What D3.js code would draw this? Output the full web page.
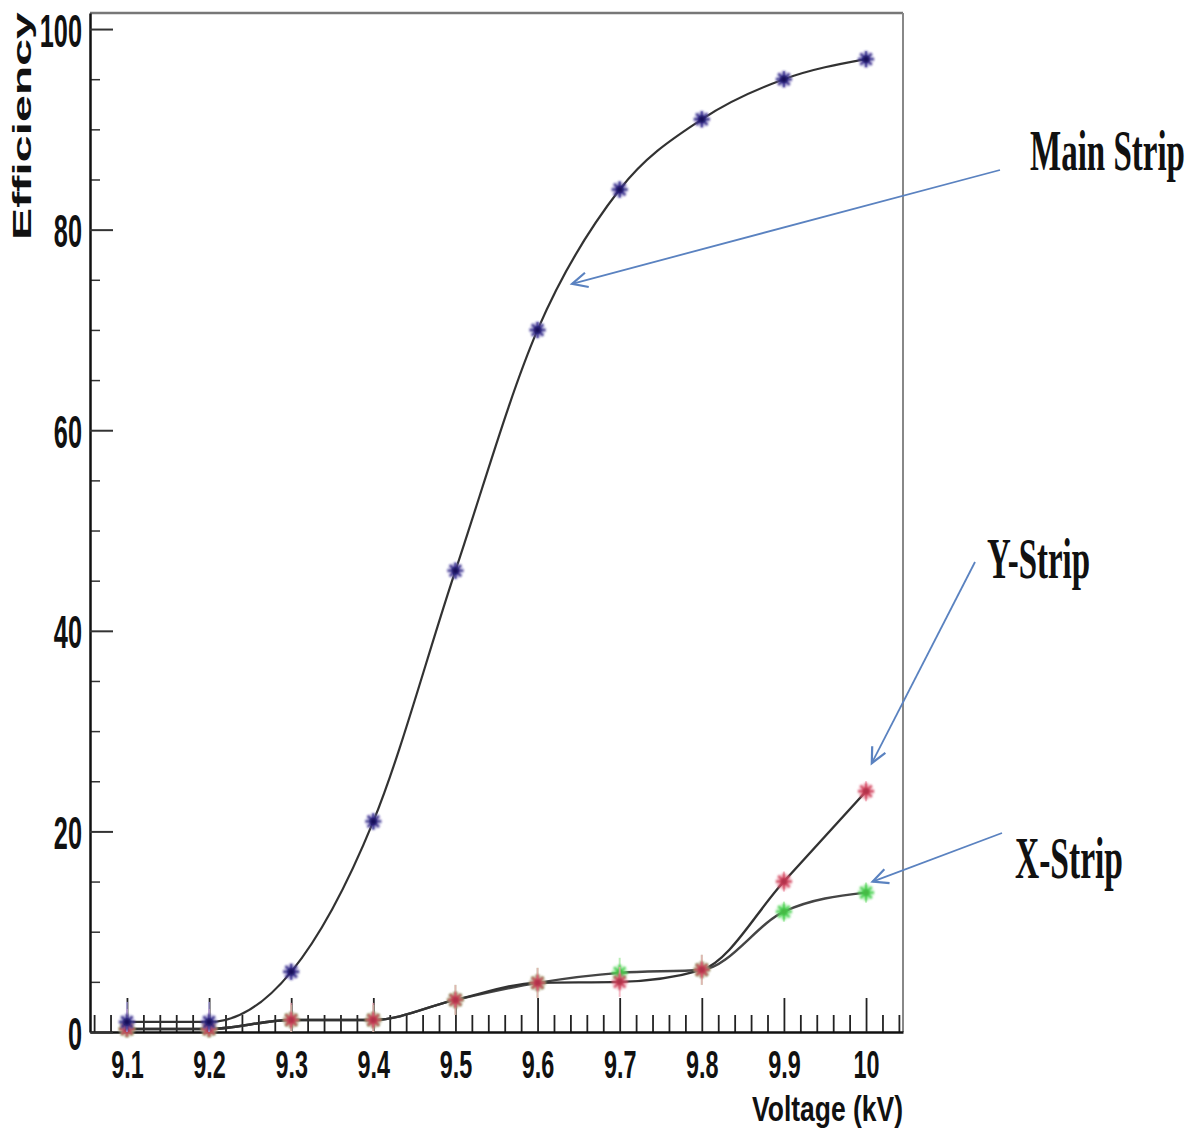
<!DOCTYPE html>
<html><head><meta charset="utf-8">
<script src="https://cdn.jsdelivr.net/npm/d3@7"></script>
<style>body{margin:0;background:#fff}</style>
</head><body><svg id="c" width="1203" height="1143"></svg>
<script>
// ---- data ----
const voltage   = [9.1, 9.2, 9.3, 9.4, 9.5, 9.6, 9.7, 9.8, 9.9, 10.0];
const mainStrip = [1.0, 1.0, 6.0, 21.0, 46.0, 70.0, 84.0, 91.0, 95.0, 97.0];
const mainErr   = [2.0, 2.0, 0.8, 0.8, 0.8, 0.8, 0.8, 0.8, 0.8, 0.8];
const yStrip    = [0.3, 0.3, 1.2, 1.2, 3.2, 4.9, 5.0, 6.2, 15.0, 24.0];
const yErr      = [2.0, 2.0, 1.7, 1.7, 1.5, 1.5, 1.5, 1.5, 1.0, 1.0];
const xStrip    = [0.3, 0.3, 1.2, 1.2, 3.2, 4.9, 5.9, 6.2, 12.0, 13.9];
const xErr      = [1.5, 1.5, 1.5, 1.5, 1.5, 1.5, 1.5, 1.5, 1.0, 1.0];
const xTickVals   = [9.1, 9.2, 9.3, 9.4, 9.5, 9.6, 9.7, 9.8, 9.9, 10.0];
const xTickLabels = ["9.1","9.2","9.3","9.4","9.5","9.6","9.7","9.8","9.9","10"];
const yTickVals   = [0, 20, 40, 60, 80, 100];
const yTickLabels = ["0","20","40","60","80","100"];
const annotations = [
  {label:"Main Strip", tipX:9.642, tipY:74.6},
  {label:"Y-Strip",    tipX:10.007, tipY:26.8},
  {label:"X-Strip",    tipX:10.008, tipY:15.0}
];

const svg = d3.select("#c");
const L=90, R=903, T=13, B=1032;
const x = d3.scaleLinear().domain([9.055, 10.045]).range([L, R]);
const y = d3.scaleLinear().domain([0, 101.6]).range([B, T]);

const defs = svg.append("defs");
defs.append("filter").attr("id","blur").attr("x","-50%").attr("y","-50%").attr("width","200%").attr("height","200%")
  .append("feGaussianBlur").attr("stdDeviation",1.3);
defs.append("filter").attr("id","soft").append("feGaussianBlur").attr("stdDeviation",0.6);

// frame top/right
svg.append("line").attr("x1",L).attr("x2",R).attr("y1",T).attr("y2",T).attr("stroke","#777").attr("stroke-width",2.5);
svg.append("line").attr("x1",R).attr("x2",R).attr("y1",T).attr("y2",B).attr("stroke","#888").attr("stroke-width",2);

// minor ticks
const xMinor = d3.range(9.06, 10.041, 0.02).filter(v => !xTickVals.some(t => Math.abs(t-v)<1e-6));
const yMinor = d3.range(0, 101, 5).filter(v => v%20!==0);

svg.append("g").attr("transform",`translate(0,${B})`)
  .call(d3.axisBottom(x).tickValues(xMinor).tickSize(-17).tickSizeOuter(0).tickFormat(""))
  .call(g=>g.select(".domain").remove())
  .selectAll("line").attr("stroke","#222").attr("stroke-width",1.8);
svg.append("g").attr("transform",`translate(${L},0)`)
  .call(d3.axisLeft(y).tickValues(yMinor).tickSize(-10).tickSizeOuter(0).tickFormat(""))
  .call(g=>g.select(".domain").remove())
  .selectAll("line").attr("stroke","#333").attr("stroke-width",1.5);

// major axes
const xAx = svg.append("g").attr("transform",`translate(0,${B})`)
  .call(d3.axisBottom(x).tickValues(xTickVals).tickSize(-34).tickSizeOuter(0)
        .tickFormat((d,i)=>xTickLabels[i]));
xAx.select(".domain").attr("stroke","#111").attr("stroke-width",2.5);
xAx.selectAll("line").attr("stroke","#222").attr("stroke-width",1.8);
xAx.selectAll("text").attr("y",46).attr("dy",null)
  .attr("transform","scale(0.6,1)")
  .attr("font-family","Liberation Sans, Arial, sans-serif").attr("font-weight","bold")
  .attr("font-size",39).attr("fill","#111");

const yAx = svg.append("g").attr("transform",`translate(${L},0)`)
  .call(d3.axisLeft(y).tickValues(yTickVals).tickSize(-23).tickSizeOuter(0)
        .tickFormat((d,i)=>yTickLabels[i]));
yAx.select(".domain").attr("stroke","#111").attr("stroke-width",2.5);
yAx.selectAll("line").attr("stroke","#333").attr("stroke-width",2);
yAx.selectAll("text").attr("x",-8/0.55).attr("dy",null).attr("y",17)
  .attr("transform","scale(0.55,1)")
  .attr("font-family","Liberation Sans, Arial, sans-serif").attr("font-weight","bold")
  .attr("font-size",46).attr("fill","#111");

// helper: text fitted to a width with a horizontal scale transform
function fitText(txt, opts){
  const t = svg.append("text").attr("font-family",opts.family).attr("font-weight","bold")
    .attr("font-size",opts.fs).attr("fill","#111").attr("text-anchor",opts.anchor||"start").text(txt);
  const w = t.node().getComputedTextLength();
  const s = opts.len / w;
  t.attr("transform",`translate(${opts.x},${opts.y})${opts.rot?` rotate(${opts.rot})`:""} scale(${s},1)`);
  return t;
}

// axis titles
fitText("Voltage (kV)", {x:R, y:1121, len:151, fs:35, anchor:"end", family:"Liberation Sans, Arial, sans-serif"});
fitText("Efficiency", {x:31, y:240, rot:-90, len:228, fs:25, family:"Liberation Sans, Arial, sans-serif"});

// curves
const mk = arr => voltage.map((v,i)=>({v, e:arr[i]}));
const line = d3.line().x(d=>x(d.v)).y(d=>y(d.e)).curve(d3.curveMonotoneX);
const curves = svg.append("g").attr("fill","none").attr("filter","url(#soft)");
curves.append("path").attr("d",line(mk(xStrip))).attr("stroke","#444").attr("stroke-width",2.4);
curves.append("path").attr("d",line(mk(yStrip))).attr("stroke","#333").attr("stroke-width",2.4);
curves.append("path").attr("d",line(mk(mainStrip))).attr("stroke","#333").attr("stroke-width",2.2);

// markers
function star(cx, cy, s){
  const p = d3.path();
  p.moveTo(cx-s,cy); p.lineTo(cx+s,cy);
  p.moveTo(cx,cy-s); p.lineTo(cx,cy+s);
  const d=s*0.7;
  p.moveTo(cx-d,cy-d); p.lineTo(cx+d,cy+d);
  p.moveTo(cx-d,cy+d); p.lineTo(cx+d,cy-d);
  return p.toString();
}
function drawSeries(arr, err, col, halo, core){
  const g = svg.append("g");
  const pts = mk(arr).map((d,i)=>({...d, err:err[i]}));
  g.selectAll("line.err").data(pts).join("line")
    .attr("x1",d=>x(d.v)).attr("x2",d=>x(d.v))
    .attr("y1",d=>y(d.e+d.err)).attr("y2",d=>y(Math.max(0,d.e-d.err)))
    .attr("stroke",halo).attr("stroke-width",2).attr("opacity",0.7);
  g.selectAll("circle").data(pts).join("circle")
    .attr("cx",d=>x(d.v)).attr("cy",d=>y(d.e)).attr("r",8)
    .attr("fill",halo).attr("opacity",0.35).attr("filter","url(#blur)");
  g.selectAll("path").data(pts).join("path")
    .attr("d",d=>star(x(d.v),y(d.e),8))
    .attr("stroke",col).attr("stroke-width",2.4).attr("fill","none").attr("filter","url(#blur)");
  g.selectAll("circle.c").data(pts).join("circle").attr("class","c")
    .attr("cx",d=>x(d.v)).attr("cy",d=>y(d.e)).attr("r",3).attr("fill",core).attr("filter","url(#blur)");
}
drawSeries(xStrip, xErr, "#3fcf4a", "#9de89a", "#47b844");
drawSeries(yStrip, yErr, "#d0405a", "#f0a0b0", "#b03048");
drawSeries(mainStrip, mainErr, "#2a2080", "#a8a0e0", "#14105a");

// annotations
const labelPos = {
  "Main Strip": {tx:1030, ty:170, len:155, fs:56, sx:1000, sy:170},
  "Y-Strip":    {tx:987,  ty:578, len:103, fs:58, sx:975,  sy:562},
  "X-Strip":    {tx:1015, ty:878, len:108, fs:60, sx:1002, sy:833}
};
const arrowCol = "#5a82c0";
annotations.forEach(a=>{
  const p = labelPos[a.label];
  fitText(a.label, {x:p.tx, y:p.ty, len:p.len, fs:p.fs, family:"Liberation Serif, Times New Roman, serif"});
  const ex = x(a.tipX), ey = y(a.tipY);
  svg.append("line").attr("x1",p.sx).attr("y1",p.sy).attr("x2",ex).attr("y2",ey)
    .attr("stroke",arrowCol).attr("stroke-width",1.8);
  const ang = Math.atan2(p.sy-ey, p.sx-ex), hl=17, spread=0.45;
  const h = d3.path();
  h.moveTo(ex+hl*Math.cos(ang+spread), ey+hl*Math.sin(ang+spread));
  h.lineTo(ex,ey);
  h.lineTo(ex+hl*Math.cos(ang-spread), ey+hl*Math.sin(ang-spread));
  svg.append("path").attr("d",h.toString()).attr("fill","none")
    .attr("stroke",arrowCol).attr("stroke-width",2.2);
});
</script></body></html>
